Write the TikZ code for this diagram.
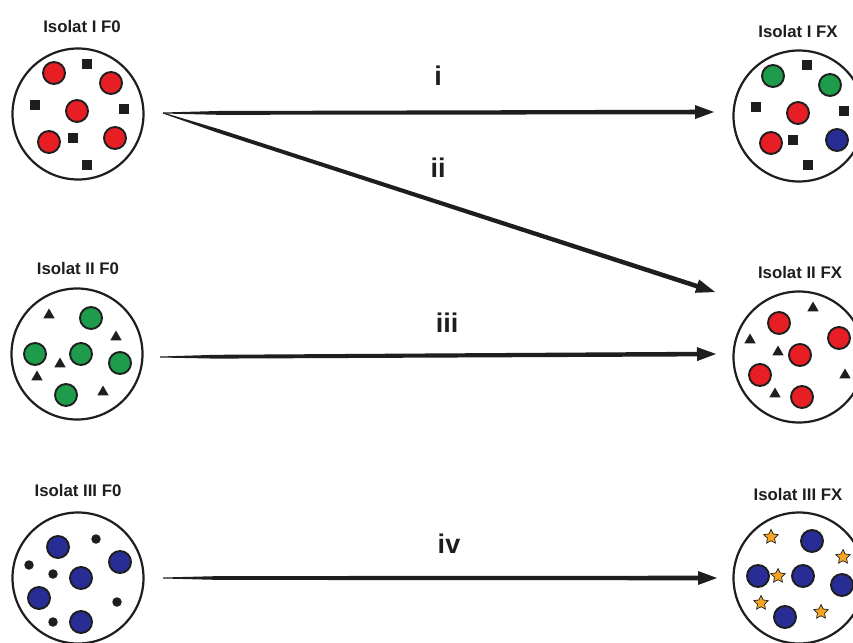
\documentclass[tikz,border=0pt]{standalone}
\usepackage{fontspec}
\setmainfont{Liberation Sans}
\usetikzlibrary{calc,shapes.geometric}
\definecolor{cred}{RGB}{232,30,37}
\definecolor{cgreen}{RGB}{30,155,75}
\definecolor{cblue}{RGB}{40,45,150}
\definecolor{corange}{RGB}{245,165,35}
\definecolor{ink}{RGB}{30,30,30}
\tikzset{
 dish/.style={circle,draw=ink,line width=2.2pt,minimum size=131pt,inner sep=0pt},
 cell/.style={circle,draw=ink,line width=1.9pt,minimum size=22pt,inner sep=0pt},
 sq/.style={rectangle,fill=ink,minimum size=10pt,inner sep=0pt},
 tri/.style={regular polygon,regular polygon sides=3,fill=ink,minimum size=13pt,inner sep=0pt},
 blackdot/.style={circle,fill=ink,minimum size=9.5pt,inner sep=0pt},
 starp/.style={star,star points=5,star point ratio=2.0,fill=corange,draw=ink,line width=0.7pt,minimum size=15pt,inner sep=0pt},
 title/.style={font=\fontsize{16.8}{18}\selectfont\bfseries,text=ink,inner sep=0pt},
 roman/.style={font=\fontsize{27}{30}\selectfont\bfseries,text=ink,inner sep=0pt},
}
\newcommand\fatarrow[2]{%
 \coordinate (hb) at ($(#2)!19pt!(#1)$);
 \coordinate (q1) at ($(#1)!0.1!(#2)$);
 \fill[ink] ($(#1)!0.5pt!90:(#2)$) -- ($(q1)!1.9pt!90:(#2)$) -- ($(hb)!2.3pt!90:(#2)$) -- ($(hb)!7pt!90:(#2)$) -- (#2)
   -- ($(hb)!7pt!-90:(#2)$) -- ($(hb)!2.3pt!-90:(#2)$) -- ($(q1)!1.9pt!-90:(#2)$) -- ($(#1)!0.5pt!-90:(#2)$) -- cycle;}
\begin{document}
\begin{tikzpicture}[x=1pt,y=-1pt]
\useasboundingbox (0,0) rectangle (853,642);
\fill[white] (0,0) rectangle (853,642);
% dishes
\node[dish] (d1) at (78,114) {};
\node[dish] (d2) at (799,116) {};
\node[dish] (d3) at (77,354) {};
\node[dish] (d4) at (799,357) {};
\node[dish] (d5) at (78,578) {};
\node[dish] (d6) at (799,578) {};
% titles
\node[title] (t1) at (82,26) {Isolat I F0};
\node[title] (t2) at (798,31) {Isolat I FX};
\node[title] (t3) at (78,268) {Isolat II F0};
\node[title] (t4) at (800,272) {Isolat II FX};
\node[title] (t5) at (78,490) {Isolat III F0};
\node[title] (t6) at (798,494) {Isolat III FX};
% dish 1
\foreach \x/\y [count=\i] in {54/73,111/83,77/111,49/142,115/138}
  \node[cell,fill=cred] (a\i) at (\x,\y) {};
\foreach \x/\y [count=\i] in {87/64,35/105,124/109,73/138,87/165}
  \node[sq] (as\i) at (\x,\y) {};
% dish 2
\node[cell,fill=cgreen] (b1) at (773,76) {};
\node[cell,fill=cgreen] (b2) at (830,85) {};
\node[cell,fill=cred] (b3) at (798,113) {};
\node[cell,fill=cred] (b4) at (771,143) {};
\node[cell,fill=cblue] (b5) at (837,140) {};
\foreach \x/\y [count=\i] in {807/65,756/107,844/111,793/140,808/165}
  \node[sq] (bs\i) at (\x,\y) {};
% dish 3
\foreach \x/\y [count=\i] in {91/318,35/354,81/354,120/363,66/395}
  \node[cell,fill=cgreen] (c\i) at (\x,\y) {};
\foreach \x/\y [count=\i] in {49/315,116/337,60/364,37/377,103/392}
  \node[tri] (ct\i) at (\x,\y) {};
% dish 4
\foreach \x/\y [count=\i] in {779/323,839/338,800/355,760/375,802/397}
  \node[cell,fill=cred] (e\i) at (\x,\y) {};
\foreach \x/\y [count=\i] in {813/308,750/340,778/352,845/375,775/394}
  \node[tri] (et\i) at (\x,\y) {};
% dish 5
\foreach \x/\y [count=\i] in {58/547,120/562,81/578,39/598,81/622}
  \node[cell,fill=cblue] (f\i) at (\x,\y) {};
\foreach \x/\y [count=\i] in {96/539,29/565,53/574,117/602,53/622}
  \node[blackdot] (fd\i) at (\x,\y) {};
% dish 6
\foreach \x/\y [count=\i] in {812/541,758/576,803/576,842/585,785/617}
  \node[cell,fill=cblue] (g\i) at (\x,\y) {};
\foreach \x/\y [count=\i] in {771/537,843/557,778/576,761/603,821/612}
  \node[starp] (gs\i) at (\x,\y) {};
% arrow end points
\coordinate (s1) at (163,113);
\coordinate (e1) at (714,112);
\coordinate (e2) at (715,292);
\coordinate (s3) at (160,357);
\coordinate (e3) at (716,354);
\coordinate (s4) at (163,578);
\coordinate (e4) at (717,578);
\fatarrow{s1}{e1}
\fatarrow{s1}{e2}
\fatarrow{s3}{e3}
\fatarrow{s4}{e4}
% arrow labels
\node[roman] (l1) at (438,76) {i};
\node[roman] (l2) at (438,168) {ii};
\node[roman] (l3) at (447,323) {iii};
\node[roman] (l4) at (449,544) {iv};
\end{tikzpicture}
\end{document}
